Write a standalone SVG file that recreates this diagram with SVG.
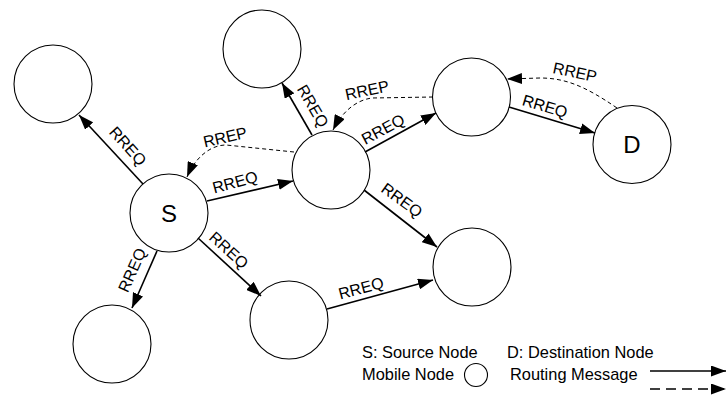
<svg xmlns="http://www.w3.org/2000/svg" width="726" height="396" viewBox="0 0 726 396">
  <defs>
    <marker id="head" markerUnits="userSpaceOnUse" markerWidth="15" markerHeight="11" refX="15" refY="5.5" orient="auto">
      <path d="M0,0 L15,5.5 L0,11 z" fill="#000"/>
    </marker>
    <style>
      .node { fill: #fff; stroke: #000; stroke-width: 1.1; }
      .req { fill: none; stroke: #000; stroke-width: 1.6; marker-end: url(#head); }
      .rep { fill: none; stroke: #000; stroke-width: 1; stroke-dasharray: 4 3; marker-end: url(#head); }
      .rep-key { fill: none; stroke: #000; stroke-width: 1.5; stroke-dasharray: 10 6; marker-end: url(#head); }
      .lbl { font-family: "Liberation Sans", Arial, sans-serif; font-size: 16px; fill: #000; text-anchor: middle; }
      .big { font-family: "Liberation Sans", Arial, sans-serif; font-size: 24px; fill: #000; text-anchor: middle; }
      .leg { font-family: "Liberation Sans", Arial, sans-serif; font-size: 16.4px; fill: #000; }
    </style>
  </defs>

  <rect width="726" height="396" fill="#fff"/>

  <!-- mobile nodes -->
  <g id="node-a"><circle class="node" cx="53" cy="84" r="39"/></g>
  <g id="node-s"><circle class="node" cx="169" cy="213" r="39"/><text class="big" x="169" y="221.5">S</text></g>
  <g id="node-b"><circle class="node" cx="262" cy="49" r="39"/></g>
  <g id="node-c"><circle class="node" cx="331" cy="170" r="39"/></g>
  <g id="node-e"><circle class="node" cx="471.5" cy="97" r="39"/></g>
  <g id="node-d"><circle class="node" cx="632" cy="144.5" r="39"/><text class="big" x="632" y="153">D</text></g>
  <g id="node-f"><circle class="node" cx="472" cy="267" r="39"/></g>
  <g id="node-g"><circle class="node" cx="289" cy="320" r="39"/></g>
  <g id="node-h"><circle class="node" cx="112" cy="344" r="39"/></g>

  <!-- routing messages -->
  <g id="connectors">
    <path class="req" d="M143,184 L79,115"/>
    <path class="req" d="M207,201 L293,181"/>
    <path class="req" d="M312,135 L282,83"/>
    <path class="req" d="M365,152 L436,113"/>
    <path class="req" d="M509,107 L595,133"/>
    <path class="req" d="M364,190 L437,247"/>
    <path class="req" d="M198,238 L261,296"/>
    <path class="req" d="M157,251 L132,308"/>
    <path class="req" d="M327,309 L433,280"/>

    <path class="rep" d="M617,108 C585,86 565,78 540,78 L507,79"/>
    <path class="rep" d="M433,97 L372,98 C356,100 342,112 333,130"/>
    <path class="rep" d="M294,152 L226,145 C210,145 195,158 187,177"/>

    <g id="connector-labels">
      <text class="lbl" transform="translate(128,146) rotate(48)" y="5.7">RREQ</text>
      <text class="lbl" transform="translate(235,182) rotate(-15)" y="5.7">RREQ</text>
      <text class="lbl" transform="translate(313,106) rotate(60)" y="5.7">RREQ</text>
      <text class="lbl" transform="translate(383,129) rotate(-28)" y="5.7">RREQ</text>
      <text class="lbl" transform="translate(545,106) rotate(16.5)" y="5.7">RREQ</text>
      <text class="lbl" transform="translate(402,200) rotate(36)" y="5.7">RREQ</text>
      <text class="lbl" transform="translate(229,250) rotate(42)" y="5.7">RREQ</text>
      <text class="lbl" transform="translate(132,270) rotate(-66)" y="5.7">RREQ</text>
      <text class="lbl" transform="translate(361,288) rotate(-15)" y="5.7">RREQ</text>
      <text class="lbl" transform="translate(575,72) rotate(12)" y="5.7">RREP</text>
      <text class="lbl" transform="translate(367,90) rotate(-12)" y="5.7">RREP</text>
      <text class="lbl" transform="translate(225,137) rotate(-13)" y="5.7">RREP</text>
    </g>
  </g>

  <!-- legend -->
  <g id="legend">
    <text class="leg" x="362" y="358">S: Source Node</text>
    <text class="leg" x="507" y="358">D: Destination Node</text>
    <text class="leg" x="362" y="380">Mobile Node</text>
    <circle class="node" cx="476" cy="375" r="11.5"/>
    <text class="leg" x="510" y="380">Routing Message</text>
    <path class="req" d="M650,371 L726,371"/>
    <path class="rep-key" d="M650,389 L726,389"/>
  </g>
</svg>
